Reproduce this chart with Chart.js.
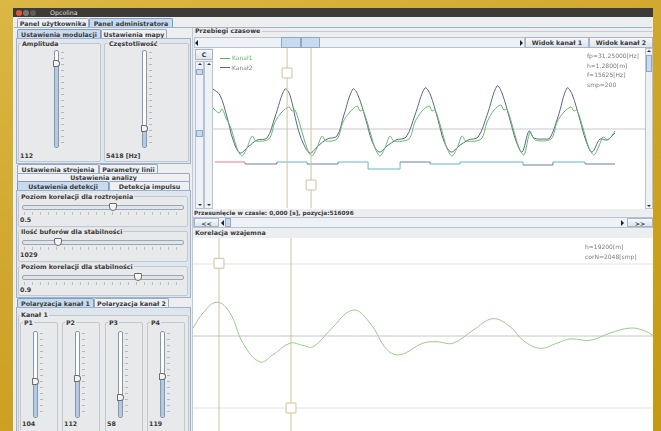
<!DOCTYPE html>
<html>
<head>
<meta charset="utf-8">
<script src="https://cdn.jsdelivr.net/npm/chart.js@4.4.1/dist/chart.umd.min.js"></script>
<style>
html, body { margin: 0; padding: 0; }
body {
  width: 661px; height: 431px; overflow: hidden; position: relative;
  background: linear-gradient(160deg, #dab843 0%, #cfa52c 45%, #c59912 100%);
  font-family: "DejaVu Sans", sans-serif; font-size: 6.3px; color: #3a3a3a;
}
div, canvas { position: absolute; box-sizing: border-box; }
.t { white-space: nowrap; line-height: 8px; }
.b { font-weight: bold; }
.tab { border: 1px solid #98aac0; border-bottom: none; border-radius: 2px 2px 0 0; background: #eef0f3;
  text-align: center; font-weight: bold; line-height: 9px; white-space: nowrap; color: #3a3a3a; }
.tab.sel { background: #c8daee; border-color: #7f9cc0; }
.pane { border: 1px solid #9db3cd; background: #dfe5ec; }
.grp { border: 1px solid #c2c8d0; border-radius: 2px; background: #e8e9eb; }
.gt { background: #e8e9eb; padding: 0 1px; font-weight: bold; line-height: 7px; white-space: nowrap; }
.btn { border: 1px solid #a7b6c8; background: linear-gradient(#f6f8fa, #dce4ed); text-align: center;
  font-weight: bold; line-height: 9px; white-space: nowrap; }
.vs { background: #eef1f5; border: 1px solid #b9c4d2; }
.thumb { background: #c9daee; border: 1px solid #8fa8c6; }
.track { background: #fff; border: 1px solid #8798ad; border-radius: 2px; }
.htrack { background: #dfe4ea; border: 1px solid #9aa6b4; border-radius: 2px; }
.fill { background: #b2cae4; }
.knob { background: #f4f4f4; border: 1px solid #6c6c6c; }
.vtk { background: repeating-linear-gradient(to bottom, #b9b9b9 0 1px, transparent 1px 6px); }
.htk { background: repeating-linear-gradient(to right, #bdbdbd 0 1px, transparent 1px 8px); }
.al { width: 0; height: 0; border-top: 3px solid transparent; border-bottom: 3px solid transparent; border-right: 3px solid #222; }
.ar { width: 0; height: 0; border-top: 3px solid transparent; border-bottom: 3px solid transparent; border-left: 3px solid #222; }
.au { width: 0; height: 0; border-left: 2px solid transparent; border-right: 2px solid transparent; border-bottom: 2px solid #333; }
.ad { width: 0; height: 0; border-left: 2px solid transparent; border-right: 2px solid transparent; border-top: 2px solid #333; }
.plot { background: #fff; }
.info { color: #7a7a7a; font-size: 6px; line-height: 9.5px; white-space: nowrap; }
</style>
</head>
<body>
<canvas id="przebiegi" width="432" height="160" style="left:213px;top:48px;z-index:2"></canvas>
<canvas id="korelacja" width="460" height="194" style="left:193px;top:238px;z-index:2"></canvas>
<script>
// Przebiegi czasowe: nr probki i amplituda
var kanal2X = [0, 3.2, 6.5, 9.3, 12.5, 16.2, 20.4, 25.0, 28.7, 33.3,
  35.6, 38.9, 41.7, 44.9, 48.6, 52.8, 57.4, 60.6, 64.8,
  67.1, 70.8, 73.6, 76.9, 80.6, 84.7, 89.4, 93.5, 98.1,
  100.5, 104.2, 106.9, 110.2, 113.9, 118.1, 122.7, 126.9, 131.5,
  133.8, 137.5, 140.3, 143.1, 146.3, 148.6, 153.7, 156.0, 159.7, 163.9,
  166.2, 169.9, 172.7, 175.5, 179.2, 182.4, 186.1];
var kanal2Y = [39, 33, 11, -12, -25, -19, -12, -10, 11, 39,
  33, 3, -15, -25, -18, -11, -8, 13, 39,
  33, 8, -13, -24, -18, -12, -9, 13, 40,
  34, 8, -13, -24, -18, -12, -9, 13, 42,
  35, 8, -13, -24, -3, -10, -11, -10, 11, 40,
  34, 8, -13, -24, -11, -12, -5];

var kanal1X = [0, 2.8, 4.2, 6.0, 8.3, 11.1, 13.4, 15.7, 18.1, 19.9,
  25.9, 28.7, 31.9, 35.2, 36.6, 38.0, 40.7, 43.5, 45.8, 48.1,
  50.5, 52.3, 57.4, 60.2, 63.4, 66.7, 68.1, 69.4, 72.2, 75.0,
  77.3, 79.6, 81.9, 83.8, 90.7, 93.5, 96.8, 100.0, 101.4, 102.8,
  105.6, 108.3, 110.6, 113.0, 115.3, 117.1, 124.1, 126.9, 130.1, 133.3,
  134.7, 136.1, 138.9, 141.7, 144.0, 146.8, 149.1, 156.5, 159.3, 162.5,
  165.7, 167.1, 168.5, 171.3, 174.1, 176.4, 178.7, 180.6, 182.9, 186.1];
var kanal1Y = [20, 15, 19, 10, 0, -20, -28, -20, -8, -13,
  -11, 6, 16, 21, 17, 18, 0, -20, -28, -20,
  -8, -13, -11, 6, 16, 22, 17, 18, 0, -20,
  -28, -20, -8, -13, -11, 6, 17, 22, 17, 18,
  0, -20, -28, -20, -8, -13, -11, 6, 18, 23,
  18, 19, 0, -20, -27, -4, -12, -11, 6, 16,
  21, 17, 18, 0, -20, -27, -18, -9, -12, -3];

// sygnal cyfrowy pod przebiegami
var stepX = [0.9, 14.8, 29.6, 43.5, 57.9, 71.8, 86.6, 100.5, 114.4, 143.5, 157.4, 172.2, 186.1];
var stepY = [-34, -36, -34, -36, -34, -41, -34, -36, -34, -37, -34, -36, -36];
var stepKolory = ['#e07f90', '#6d7fa2', '#62b8c8', '#6d7fa2', '#62b8c8', '#62b8c8', '#6d7fa2',
  '#62b8c8', '#62b8c8', '#6d7fa2', '#62b8c8', '#6d7fa2'];

// kursory (nr probki) i znaczniki
var kursoryX = [34.3, 45.4];
var znacznikiY = [55, -57];

// Korelacja wzajemna: przesuniecie i wartosc
var korX = [0, 10, 24, 37, 50, 67, 80, 97, 110, 120, 137, 160, 177, 194, 207, 230, 244, 260,
  280, 300, 317, 330, 347, 364, 377, 397, 417, 437, 450, 460];
var korY = [0.11, 0.32, 0.47, 0.32, -0.10, -0.36, -0.26, -0.10, -0.13, -0.15, 0.08, 0.36, 0.18,
  -0.19, -0.26, -0.10, -0.08, -0.10, 0.08, 0.24, 0.13, -0.06, -0.17, -0.10, -0.04, -0.06,
  0.04, 0.11, 0.08, 0.01];
var korKursoryX = [26, 98];
var korZnacznikiY = [1.01, -1.0];
var korPoziomy = [1, 0, -1];

// wartosci suwakow
var polaryzacja = [104, 112, 58, 119];

function el(x, y, w, h, cls, txt) {
  var d = document.createElement('div');
  d.className = cls || '';
  d.style.left = x + 'px';
  d.style.top = y + 'px';
  if (w != null) d.style.width = w + 'px';
  if (h != null) d.style.height = h + 'px';
  if (txt) d.textContent = txt;
  document.body.appendChild(d);
  return d;
}

function vslider(x, y1, y2, ty) {
  el(x, y1, 5, y2 - y1, 'track');
  el(x + 1, ty + 3, 3, y2 - ty - 4, 'fill');
  el(x + 7, y1 + 2, 3, y2 - y1 - 4, 'vtk');
  var k = el(x - 1, ty, 7, 7, 'knob');
  k.style.borderRadius = '1px 4px 4px 1px';
}

function hslider(x1, x2, y, tx) {
  el(x1, y, x2 - x1, 5, 'htrack');
  el(x1 + 2, y + 7, x2 - x1 - 4, 3, 'htk');
  var k = el(tx, y - 2, 8, 8, 'knob');
  k.style.borderRadius = '1px 1px 4px 4px';
}

// okno
el(13, 8, 640, 9, '').style.background = '#3c3b37';
var c = el(16, 10, 6, 6, ''); c.style.background = '#e2553a'; c.style.borderRadius = '3px';
c = el(23, 10, 6, 6, ''); c.style.background = '#77766f'; c.style.borderRadius = '3px';
c = el(30, 10, 6, 6, ''); c.style.background = '#5f5e58'; c.style.borderRadius = '3px';
el(50, 8.5, null, null, 't', 'Opcolina').style.color = '#dcdcd6';
el(13, 17, 640, 420, '').style.background = '#eceef0';

// zakladki glowne
el(17, 18, 72, 10, 'tab', 'Panel użytkownika');
el(89, 18, 84, 10, 'tab sel', 'Panel administratora');
el(14, 27, 638, 1, '').style.background = '#9db3cd';

// lewy panel - modulacja
el(17, 29, 84, 10, 'tab sel', 'Ustawienia modulacji');
el(101, 29, 66, 10, 'tab', 'Ustawienia mapy');
el(16, 38, 175, 126, 'pane');
el(18, 43, 83, 119, 'grp');
el(21, 40, null, null, 'gt', 'Amplituda');
vslider(54, 50, 148, 60);
el(20, 152, null, null, 't b', '112');
el(104, 43, 85, 119, 'grp');
el(108, 40, null, null, 'gt', 'Częstotliwość');
vslider(142, 50, 148, 125);
el(106, 152, null, null, 't b', '5418 [Hz]');

// lewy panel - analiza
el(17, 164, 82, 10, 'tab', 'Ustawienia strojenia');
el(99, 164, 59, 10, 'tab', 'Parametry linii');
el(17, 173, 173, 9, 'tab', 'Ustawienia analizy').style.lineHeight = '7px';
el(17, 181, 92, 10, 'tab sel', 'Ustawienia detekcji');
el(109, 181, 81, 10, 'tab', 'Detekcja impulsu');
el(16, 190, 175, 108, 'pane');
el(18, 196, 170, 31, 'grp');
el(20, 193, null, null, 'gt', 'Poziom korelacji dla roztrojenia');
hslider(22, 184, 205, 109);
el(20, 216, null, null, 't b', '0.5');
el(18, 231, 170, 31, 'grp');
el(20, 228, null, null, 'gt', 'Ilość buforów dla stabilności');
hslider(22, 184, 240, 54);
el(20, 251, null, null, 't b', '1029');
el(18, 266, 170, 30, 'grp');
el(20, 263, null, null, 'gt', 'Poziom korelacji dla stabilności');
hslider(22, 184, 275, 134);
el(20, 286, null, null, 't b', '0.9');

// lewy panel - polaryzacja
el(17, 298, 77, 10, 'tab sel', 'Polaryzacja kanał 1');
el(94, 298, 75, 10, 'tab', 'Polaryzacja kanał 2');
el(16, 307, 175, 130, 'pane');
el(18, 315, 171, 120, 'grp');
el(20, 311, null, null, 'gt', 'Kanał 1');
var pX = [20, 62, 105, 147];
var pKnob = [378, 375, 394, 373];
for (var i = 0; i < 4; i++) {
  el(pX[i], 322, 38, 112, 'grp');
  el(pX[i] + 3, 319, null, null, 'gt', 'P' + (i + 1));
  vslider(pX[i] + 13, 331, 418, pKnob[i]);
  el(pX[i] + 2, 420, null, null, 't b', String(polaryzacja[i]));
}

// prawy panel - przebiegi
el(192, 28, 1, 410, '').style.background = '#b9cbe0';
el(195, 27, null, null, 't b', 'Przebiegi czasowe');
el(262, 31, 391, 1, '').style.background = '#c9cdd3';
el(194, 37, 331, 11, 'vs');
el(195, 39.5, null, null, 'al');
el(281, 37, 20, 11, 'thumb');
el(301, 37, 19, 11, 'thumb');
el(520, 39.5, null, null, 'ar');
el(525, 37, 64, 11, 'btn', 'Widok kanał 1');
el(589, 37, 64, 11, 'btn', 'Widok kanał 2');
el(195, 49, 18, 11, 'btn', 'C');
el(195, 61, 9, 148, 'vs');
el(204, 61, 9, 148, 'vs');
el(197.5, 63, null, null, 'au'); el(206.5, 63, null, null, 'au');
el(197.5, 204, null, null, 'ad'); el(206.5, 204, null, null, 'ad');
el(196, 69, 7, 6, 'thumb');
el(196, 130, 7, 7, 'thumb');
el(213, 48, 432, 161, 'plot');
el(645, 48, 8, 161, 'vs');
el(647, 50, null, null, 'au');
el(646, 55, 6, 17, 'thumb');
el(647, 205, null, null, 'ad');
var leg1 = el(220, 53, null, null, 'info', 'Kanał1'); leg1.style.color = '#6cb86c'; leg1.style.paddingLeft = '12px';
el(220, 57.5, 10, 1, '').style.background = '#5fae5f';
var leg2 = el(220, 62.5, null, null, 'info', 'Kanał2'); leg2.style.color = '#7d8496'; leg2.style.paddingLeft = '12px';
el(220, 67, 10, 1, '').style.background = '#56688c';
var inf = el(587, 51, null, null, 'info');
inf.innerHTML = 'fp=31.25000[Hz]<br>h=1.2800[m]<br>f=15625[Hz]<br>smp=200';
inf.style.zIndex = 3; leg1.style.zIndex = 3; leg2.style.zIndex = 3;
var przes = el(194, 209, null, null, 't b', 'Przesunięcie w czasie: 0,000 [s], pozycja:516096');
przes.style.fontSize = '5.8px';
el(193, 217, 460, 11, 'vs');
el(194, 218, 25, 9, 'btn', '<<');
el(221, 219.5, null, null, 'al');
el(225, 218, 6, 9, 'thumb');
el(621, 219.5, null, null, 'ar');
el(627, 218, 26, 9, 'btn', '>>');
el(195, 229, null, null, 't b', 'Korelacja wzajemna');
el(193, 238, 460, 200, 'plot');
var inf2 = el(585, 242, null, null, 'info');
inf2.innerHTML = 'h=19200[m]<br>corN=2048[smp]';
inf2.style.zIndex = 3;

function pary(xs, ys) {
  return xs.map(function (x, i) { return { x: x, y: ys[i] }; });
}
function pion(x, y1, y2) {
  return { data: [{ x: x, y: y1 }, { x: x, y: y2 }], borderColor: '#cdc49c', borderWidth: 1, tension: 0 };
}
function poziom(y, x1, x2, kolor) {
  return { data: [{ x: x1, y: y }, { x: x2, y: y }], borderColor: kolor, borderWidth: 1, tension: 0 };
}
function znacznik(x, y) {
  return { data: [{ x: x, y: y }], showLine: false, pointStyle: 'rect', pointRadius: 7,
    pointBackgroundColor: '#ffffff', pointBorderColor: '#cdc49c', pointBorderWidth: 1 };
}

var opcje = function (xmax, ymin, ymax) {
  return {
    responsive: false, animation: false,
    layout: { padding: 0, autoPadding: false },
    plugins: { legend: { display: false }, tooltip: { enabled: false } },
    scales: {
      x: { type: 'linear', min: 0, max: xmax, display: false },
      y: { min: ymin, max: ymax, display: false }
    },
    elements: { point: { radius: 0 }, line: { borderWidth: 1 } }
  };
};

new Chart(document.getElementById('przebiegi'), {
  type: 'line',
  data: {
    datasets: [
      znacznik(kursoryX[0], znacznikiY[0]),
      znacznik(kursoryX[1], znacznikiY[1]),
      pion(kursoryX[0], -80, 80),
      pion(kursoryX[1], -80, 80),
      { label: 'Kanał1', data: pary(kanal1X, kanal1Y), borderColor: '#6ab56a', tension: 0.3 },
      { label: 'Kanał2', data: pary(kanal2X, kanal2Y), borderColor: '#56688c', tension: 0.35 },
      { data: pary(stepX, stepY), stepped: true, borderColor: '#6d7fa2',
        segment: { borderColor: function (ctx) { return stepKolory[ctx.p0DataIndex]; } } },
      poziom(-1, 0, 200, '#c8c8c8')
    ]
  },
  options: opcje(200, -80, 80)
});

var korSets = [
  znacznik(korKursoryX[0], korZnacznikiY[0]),
  znacznik(korKursoryX[1], korZnacznikiY[1]),
  pion(korKursoryX[0], -1.34, 1.37),
  pion(korKursoryX[1], -1.34, 1.37),
  { data: pary(korX, korY), borderColor: '#9acb8a', tension: 0.4 }
];
korPoziomy.forEach(function (p) {
  korSets.push(poziom(p, 0, 460, p === 0 ? '#c6c6c6' : '#e2e2e2'));
});

new Chart(document.getElementById('korelacja'), {
  type: 'line',
  data: { datasets: korSets },
  options: opcje(460, -1.3333, 1.3611)
});
</script>
</body>
</html>
